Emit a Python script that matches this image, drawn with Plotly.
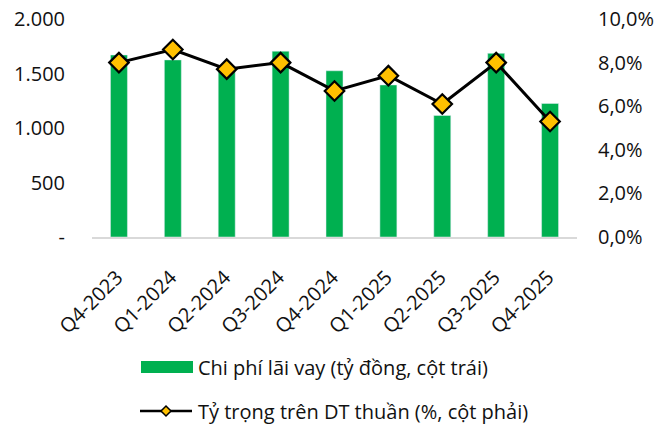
import plotly.graph_objects as go

quarters = ["Q4-2023", "Q1-2024", "Q2-2024", "Q3-2024", "Q4-2024",
            "Q1-2025", "Q2-2025", "Q3-2025", "Q4-2025"]
interest_expense = [1670, 1625, 1560, 1705, 1525, 1395, 1115, 1685, 1225]  # tỷ đồng
share_of_revenue = [8.0, 8.6, 7.7, 8.0, 6.7, 7.4, 6.1, 8.0, 5.3]  # % DT thuần

left_ticks = [0, 500, 1000, 1500, 2000]
left_labels = ["-", "500", "1.000", "1.500", "2.000"]
right_ticks = [0, 2, 4, 6, 8, 10]
right_labels = ["0,0%", "2,0%", "4,0%", "6,0%", "8,0%", "10,0%"]

bar_name = "Chi phí lãi vay (tỷ đồng, cột trái)"
line_name = "Tỷ trọng trên DT thuần (%, cột phải)"

GREEN = "#00B050"
GOLD = "#FFC000"
FONT = "Open Sans"
TEXT = "#111111"

# plot area in pixels (used to place the hand-drawn legend in paper units)
L, R, T, B = 92, 577, 19, 237
W, H = R - L, B - T


def px(x):
    return (x - L) / W


def py(y):
    return (B - y) / H


fig = go.Figure()
fig.add_trace(go.Bar(
    x=quarters, y=interest_expense, name=bar_name,
    marker=dict(color=GREEN), width=0.315, showlegend=False,
))
fig.add_trace(go.Scatter(
    x=quarters, y=share_of_revenue, name=line_name, yaxis="y2",
    mode="lines+markers",
    line=dict(color="black", width=3),
    marker=dict(symbol="diamond", size=15, color=GOLD,
                line=dict(color="black", width=2.2)),
    showlegend=False,
))

# legend drawn by hand: wide green swatch and line-with-diamond key
fig.add_shape(type="rect", xref="paper", yref="paper",
              x0=px(141), x1=px(193), y0=py(373), y1=py(361),
              fillcolor=GREEN, line=dict(width=0))
fig.add_shape(type="line", xref="paper", yref="paper",
              x0=px(140), x1=px(192), y0=py(411), y1=py(411),
              line=dict(color="black", width=2.5))
cx, cy, r = 166, 411, 5
fig.add_shape(type="path", xref="paper", yref="paper",
              path=(f"M {px(cx - r)} {py(cy)} L {px(cx)} {py(cy - r)} "
                    f"L {px(cx + r)} {py(cy)} L {px(cx)} {py(cy + r)} Z"),
              fillcolor=GOLD, line=dict(color="black", width=1.5))
for name, ypix in [(bar_name, 367), (line_name, 411)]:
    fig.add_annotation(text=name, xref="paper", yref="paper",
                       x=px(196), y=py(ypix),
                       xanchor="left", yanchor="middle", showarrow=False,
                       font=dict(family=FONT, size=20, color=TEXT))

fig.update_layout(
    width=671, height=424,
    margin=dict(l=L, r=671 - R, t=T, b=424 - B),
    paper_bgcolor="white", plot_bgcolor="white",
    font=dict(family=FONT, size=20, color=TEXT),
    xaxis=dict(
        type="category", range=[-0.5, len(quarters) - 0.5],
        tickangle=-45, showgrid=False, automargin=False,
        showline=True, linecolor="#D9D9D9", linewidth=1.5,
        ticks="", ticklabelstandoff=19, ticklabelshift=-2,
        tickfont=dict(family=FONT, size=20),
    ),
    yaxis=dict(
        range=[0, 2000], tickvals=left_ticks, ticktext=left_labels,
        showgrid=False, zeroline=False, showline=False, automargin=False,
        ticklabelstandoff=26,
    ),
    yaxis2=dict(
        range=[0, 10], tickvals=right_ticks, ticktext=right_labels,
        overlaying="y", side="right", showgrid=False, zeroline=False,
        showline=False, automargin=False, ticklabelstandoff=20,
    ),
)

fig.write_html("out.html")
